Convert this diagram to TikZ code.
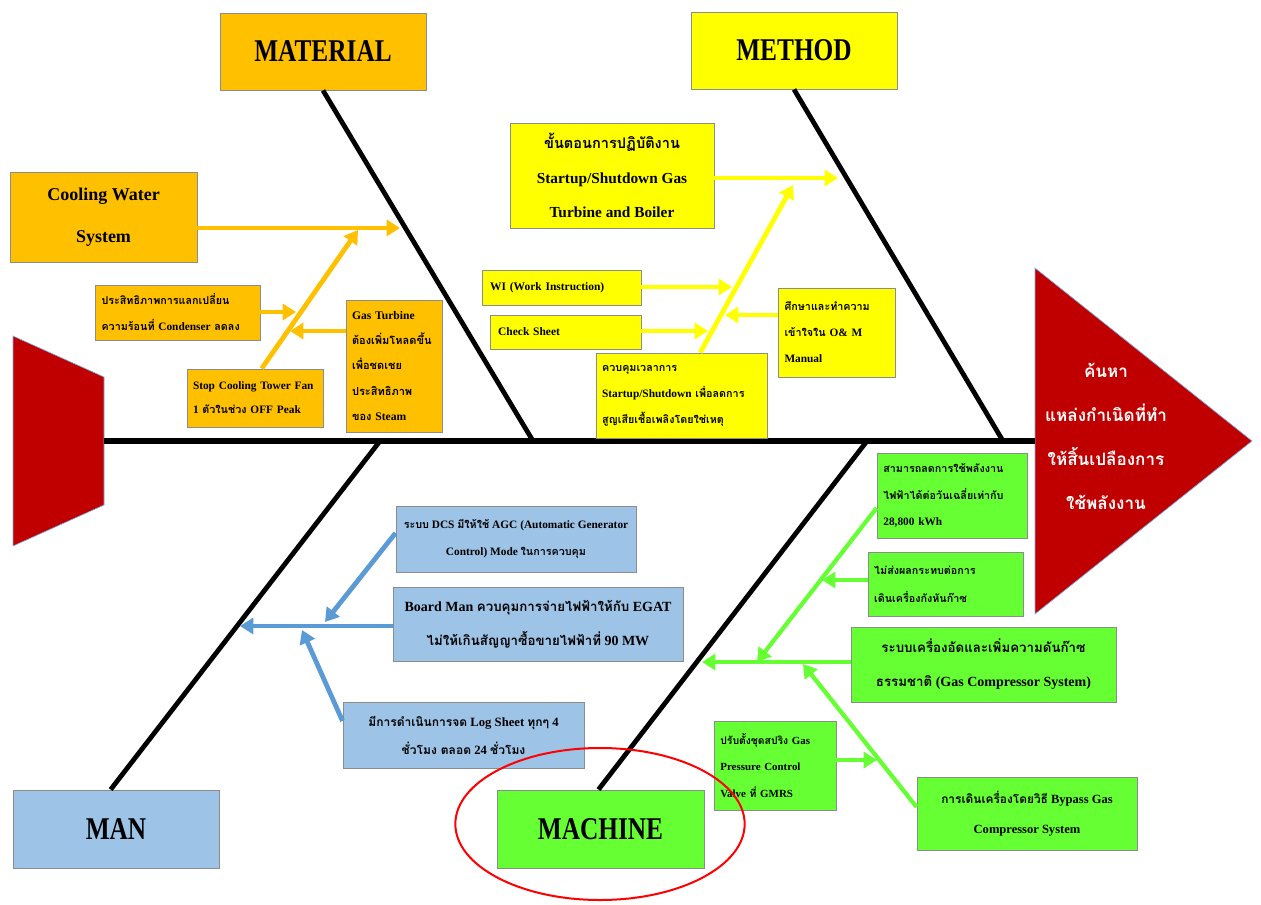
\documentclass[tikz,border=0pt]{standalone}
\usepackage{fontspec}
\setmainfont{Liberation Serif}
\newfontfamily\thaifont[Script=Thai,Scale=0.95]{Loma}
\newcommand\T[1]{{\thaifont #1}}
\newcommand\fsz[2]{\fontsize{#1}{#2}\selectfont\bfseries}
\newcommand\tall[1]{\scalebox{1}[1.25]{#1}}
\usetikzlibrary{arrows.meta,shapes.geometric}
\definecolor{orgc}{HTML}{FFC000}
\definecolor{yelc}{HTML}{FFFF00}
\definecolor{bluc}{HTML}{9DC3E6}
\definecolor{blua}{HTML}{5B9BD5}
\definecolor{grnc}{HTML}{66FF33}
\definecolor{redc}{HTML}{C00000}
\definecolor{edgec}{HTML}{8C8C8C}
\begin{document}
\begin{tikzpicture}[x=0.75pt,y=-0.75pt,
  rect/.style n args={4}{at={({(#1+#3)/2},{(#2+#4)/2})},
     minimum width={(#3-#1)*0.75pt}, minimum height={(#4-#2)*0.75pt}},
  bx/.style={draw=edgec, line width=0.7pt, inner sep=0pt},
  org/.style={bx, fill=orgc},
  yel/.style={bx, fill=yelc},
  blu/.style={bx, fill=bluc},
  grn/.style={bx, fill=grnc},
  lt/.style={align=left, text width=#1},
  hd/.style={font=\fsz{19}{22}},
  tip/.style={-{Triangle[length=10pt,width=12pt]}},
  oa/.style={draw=orgc, line width=3.6pt, tip},
  ya/.style={draw=yelc, line width=3.6pt, tip},
  ba/.style={draw=blua, line width=3.6pt, tip},
  ga/.style={draw=grnc, line width=3.2pt, tip},
  bone/.style={draw=black, line width=3.6pt},
  spine/.style={draw=black, line width=5pt}]
\useasboundingbox (0,0) rectangle (1261,904);

% head and tail
\filldraw[fill=redc, draw=blua!80, line width=0.5pt] (13,336) -- (104,377) -- (104,505) -- (13,546) -- cycle;
\filldraw[fill=redc, draw=blua!80, line width=0.5pt] (1035,268) -- (1252,441) -- (1035,614) -- cycle;
\node[text=white, align=center, font=\thaifont\fontsize{13.5}{33}\selectfont\bfseries] (ttl) at (1106,436)
  {ค้นหา\\แหล่งกำเนิดที่ทำ\\ให้สิ้นเปลืองการ\\ใช้พลังงาน};

% category boxes
\node[org, hd, rect={220}{13}{426}{90}] (mat) {\tall{MATERIAL}};
\node[yel, hd, rect={691}{12}{897}{89}] (met) {\tall{METHOD}};
\node[blu, hd, rect={13}{790}{219}{868}] (man) {\tall{MAN}};
\node[grn, hd, rect={497}{790}{704}{868}] (mac) {\tall{MACHINE}};

% spine and bones
\coordinate (tail) at (104,441);
\coordinate (headL) at (1035,441);
\draw[spine] (tail) -- (headL);
\coordinate (b1) at (533,441);
\coordinate (b2) at (1003,441);
\coordinate (b3) at (380,441);
\coordinate (b4) at (867,441);
\draw[bone] (mat.south) -- (b1);
\draw[bone] (met.south) -- (b2);
\draw[bone] ([xshift=-4pt]man.north) -- (b3);
\draw[bone] ([xshift=-1.5pt]mac.north) -- (b4);

% MATERIAL causes
\node[org, rect={10}{172}{197}{262}, align=center, font=\fsz{13.5}{31.5}] (cw) {Cooling Water\\System};
\node[org, rect={95}{285}{260}{340}, lt=114pt, font=\fsz{8.5}{19.5}] (cond)
  {\T{ประสิทธิภาพการแลกเปลี่ยน}\\\T{ความร้อนที่} Condenser \T{ลดลง}};
\node[org, rect={346}{300}{442}{432}, lt=63pt, font=\fsz{8.7}{19}] (gt)
  {Gas Turbine\\\T{ต้องเพิ่มโหลดขึ้น}\\\T{เพื่อชดเชย}\\\T{ประสิทธิภาพ}\\\T{ของ} Steam};
\node[org, rect={187}{369}{323}{427}, lt=93pt, font=\fsz{8.5}{18}] (stop)
  {Stop Cooling Tower Fan\\1 \T{ตัวในช่วง} OFF Peak};

\coordinate (mA) at (400,228);
\coordinate (mB) at (358,230);
\coordinate (mC) at (296,312);
\coordinate (mD) at (290,331);
\draw[oa] (cw.east |- mA) -- (mA);
\draw[oa] ([xshift=5pt]stop.north) -- (mB);
\draw[oa] (cond.east |- mC) -- (mC);
\draw[oa] (gt.west |- mD) -- (mD);

% METHOD causes
\node[yel, rect={510}{123}{714}{228}, align=center, font=\fsz{11.5}{26}] (proc)
  {\T{ขั้นตอนการปฏิบัติงาน}\\Startup/Shutdown Gas\\Turbine and Boiler};
\node[yel, rect={482}{270}{641}{305}, lt=107pt, font=\fsz{8.6}{10}] (wi) {WI (Work Instruction)};
\node[yel, rect={490}{315}{641}{349}, lt=101pt, font=\fsz{8.6}{10}] (cs) {Check Sheet};
\node[yel, rect={778}{288}{895}{377}, lt=78pt, font=\fsz{8.5}{19.5}] (om)
  {\T{ศึกษาและทำความ}\\\T{เข้าใจใน} O\& M\\Manual};
\node[yel, rect={596}{353}{767}{438}, lt=119pt, font=\fsz{8.5}{19.5}] (ctl)
  {\T{ควบคุมเวลาการ}\\Startup/Shutdown \T{เพื่อลดการ}\\\T{สูญเสียเชื้อเพลิงโดยใช่เหตุ}};

\coordinate (tA) at (838,178);
\coordinate (tB) at (793,185);
\coordinate (tC) at (732,287);
\coordinate (tD) at (708,331);
\coordinate (tE) at (725,315);
\draw[ya] (proc.east |- tA) -- (tA);
\draw[ya] ([xshift=14pt]ctl.north) -- (tB);
\draw[ya] (wi.east |- tC) -- (tC);
\draw[ya] (cs.east |- tD) -- (tD);
\draw[ya] (om.west |- tE) -- (tE);

% MAN causes
\node[blu, rect={396}{506}{636}{572}, align=center, font=\fsz{8.5}{20}] (dcs)
  {\T{ระบบ} DCS \T{มีให้ใช้} AGC (Automatic Generator\\Control) Mode \T{ในการควบคุม}};
\node[blu, rect={393}{587}{683}{661}, align=center, font=\fsz{10.5}{25.5}] (bm)
  {Board Man \T{ควบคุมการจ่ายไฟฟ้าให้กับ} EGAT\\\T{ไม่ให้เกินสัญญาซื้อขายไฟฟ้าที่} 90 MW};
\node[blu, rect={343}{702}{584}{768}, align=center, font=\fsz{9.5}{21}] (log)
  {\T{มีการดำเนินการจด} Log Sheet \T{ทุกๆ} 4\\\T{ชั่วโมง ตลอด} 24 \T{ชั่วโมง}};

\coordinate (nA) at (240,626);
\coordinate (nB) at (325,622);
\coordinate (nC) at (302,630);
\draw[ba] (bm.west |- nA) -- (nA);
\draw[ba] ([yshift=4.5pt]dcs.west) -- (nB);
\draw[ba] ([yshift=10.5pt]log.west) -- (nC);

% MACHINE causes
\node[grn, rect={877}{453}{1027}{538}, lt=103pt, font=\fsz{8.5}{20}] (sav)
  {\T{สามารถลดการใช้พลังงาน}\\\T{ไฟฟ้าได้ต่อวันเฉลี่ยเท่ากับ}\\28,800 kWh};
\node[grn, rect={868}{552}{1023}{616}, lt=107pt, font=\fsz{8.5}{21}] (noimp)
  {\T{ไม่ส่งผลกระทบต่อการ}\\\T{เดินเครื่องกังหันก๊าซ}};
\node[grn, rect={851}{627}{1116}{702}, align=center, font=\fsz{10.5}{25.5}] (gcs)
  {\T{ระบบเครื่องอัดและเพิ่มความดันก๊าซ}\\\T{ธรรมชาติ} (Gas Compressor System)};
\node[grn, rect={714}{721}{836}{810}, lt=82pt, font=\fsz{8.2}{20}] (spr)
  {\T{ปรับตั้งชุดสปริง} Gas\\Pressure Control\\Valve \T{ที่} GMRS};
\node[grn, rect={917}{777}{1137}{850}, align=center, font=\fsz{9.4}{22.5}] (byp)
  {\T{การเดินเครื่องโดยวิธี} Bypass Gas\\Compressor System};

\coordinate (gA) at (757,662);
\coordinate (gB) at (822,580);
\coordinate (gC) at (702,662);
\coordinate (gD) at (877,760);
\coordinate (gE) at (803,664);
\draw[ga] ([yshift=-9.4pt]sav.west) -- (gA);
\draw[ga] (noimp.west |- gB) -- (gB);
\draw[ga] (gcs.west |- gC) -- (gC);
\draw[ga] (spr.east |- gD) -- (gD);
\draw[ga] ([yshift=4.9pt]byp.west) -- (gE);

% highlight ring
\node[draw=red, line width=1.5pt, ellipse, minimum width=217pt, minimum height=114pt] (ring) at (600,824) {};
\end{tikzpicture}
\end{document}
